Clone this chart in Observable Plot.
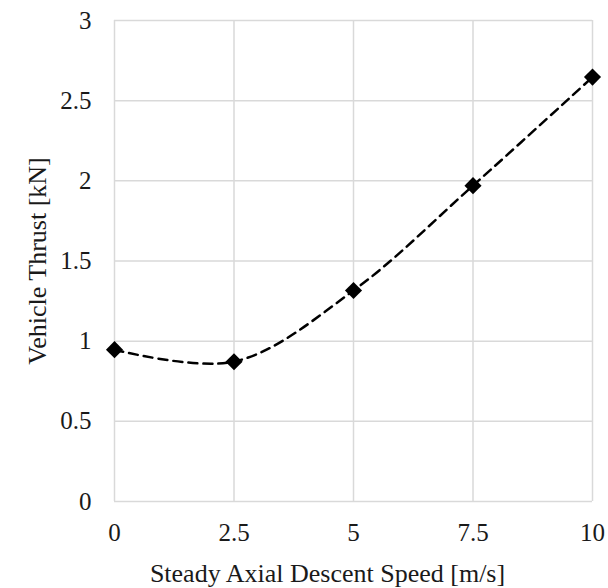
<!DOCTYPE html>
<html>
<head>
<meta charset="utf-8">
<script src="https://cdn.jsdelivr.net/npm/d3@7"></script>
<script src="https://cdn.jsdelivr.net/npm/@observablehq/plot@0.6"></script>
<style>
  html, body { margin: 0; padding: 0; background: #fff; }
  #chart { width: 608px; height: 588px; }
</style>
</head>
<body>
<div id="chart"></div>
<script>
const speeds = [0, 2.5, 5, 7.5, 10];
const thrust = [0.947, 0.872, 1.316, 1.97, 2.647];
const xTicks = [0, 2.5, 5, 7.5, 10];
const yTicks = [0, 0.5, 1, 1.5, 2, 2.5, 3];
const xTickLabels = ["0", "2.5", "5", "7.5", "10"];
const yTickLabels = ["0", "0.5", "1", "1.5", "2", "2.5", "3"];
const xTitle = "Steady Axial Descent Speed [m/s]";
const yTitle = "Vehicle Thrust [kN]";

const data = speeds.map((s, i) => ({speed: s, thrust: thrust[i]}));

const chart = Plot.plot({
  width: 608,
  height: 588,
  marginLeft: 114,
  marginRight: 16,
  marginTop: 20,
  marginBottom: 87,
  style: {fontFamily: "'Liberation Serif', 'Times New Roman', serif", fontSize: "25px", color: "#1a1a1a", background: "#fff"},
  x: {domain: [0, 10], ticks: xTicks, label: null},
  y: {domain: [0, 3], ticks: yTicks, label: null},
  marks: [
    Plot.ruleX(xTicks, {stroke: "#d9d9d9", strokeWidth: 1.5}),
    Plot.ruleY(yTicks, {stroke: "#d9d9d9", strokeWidth: 1.5}),
    Plot.axisX({ticks: xTicks, tickSize: 0, tickPadding: 22, fontSize: 25,
      tickFormat: (d, i) => xTickLabels[i], label: null}),
    Plot.axisY({ticks: yTicks, tickSize: 0, tickPadding: 23, fontSize: 25,
      tickFormat: (d, i) => yTickLabels[i], label: null}),
    Plot.text([xTitle], {frameAnchor: "bottom", textAnchor: "middle", dx: -26, dy: 72, lineAnchor: "middle", fontSize: 26, fill: "#1a1a1a"}),
    Plot.text([yTitle], {frameAnchor: "left", textAnchor: "middle", dx: -77, rotate: -90, lineAnchor: "middle", fontSize: 26, fill: "#1a1a1a"}),
    Plot.line(data, {x: "speed", y: "thrust", curve: "catmull-rom", stroke: "#000", strokeWidth: 2.5, strokeDasharray: "9,6"}),
    Plot.dot(data, {x: "speed", y: "thrust", symbol: "diamond2", r: 7.7, fill: "#000", stroke: "none"})
  ]
});
document.getElementById("chart").appendChild(chart);
</script>
</body>
</html>
